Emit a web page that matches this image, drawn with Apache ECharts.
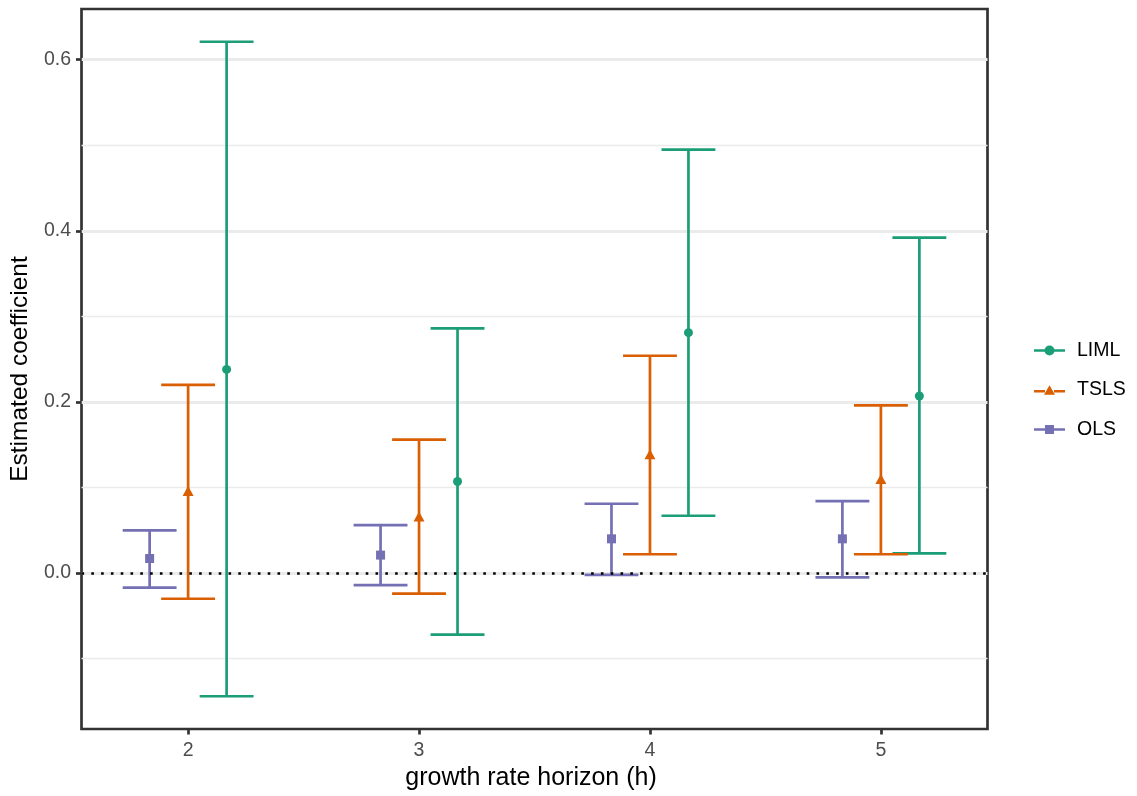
<!DOCTYPE html>
<html>
<head>
<meta charset="utf-8">
<script src="https://cdn.jsdelivr.net/npm/echarts@6/dist/echarts.min.js"></script>
<style>
html,body{margin:0;padding:0;background:#fff;}
#chart{width:1137px;height:796px;}
</style>
</head>
<body>
<div id="chart"></div>
<script>
// ---- data ----
const horizons = [2, 3, 4, 5];
const methods = ['LIML', 'TSLS', 'OLS'];

const limlEst = [0.238, 0.107, 0.281, 0.207];
const limlLo  = [-0.144, -0.072, 0.067, 0.023];
const limlHi  = [0.621, 0.286, 0.495, 0.392];

const tslsEst = [0.096, 0.066, 0.139, 0.110];
const tslsLo  = [-0.030, -0.024, 0.022, 0.022];
const tslsHi  = [0.220, 0.156, 0.254, 0.196];

const olsEst = [0.017, 0.021, 0.040, 0.040];
const olsLo  = [-0.017, -0.014, -0.002, -0.005];
const olsHi  = [0.050, 0.056, 0.081, 0.084];

const xTicks = [2, 3, 4, 5];
const yTicks = [0, 0.2, 0.4, 0.6];
const yMinor = [-0.1, 0.1, 0.3, 0.5];

// ---- layout / style ----
const colors = {LIML: '#1B9E77', TSLS: '#D95F02', OLS: '#7570B3'};
const dodge = {OLS: -1/6, TSLS: 0, LIML: 1/6};
const capHalf = 0.7 / 6;
const FONT = 'Liberation Sans';

const est = {LIML: limlEst, TSLS: tslsEst, OLS: olsEst};
const lo  = {LIML: limlLo,  TSLS: tslsLo,  OLS: olsLo};
const hi  = {LIML: limlHi,  TSLS: tslsHi,  OLS: olsHi};

// continuous-scale 5% expansion
const xDataMin = Math.min(...horizons) + dodge.OLS - capHalf;
const xDataMax = Math.max(...horizons) + dodge.LIML + capHalf;
const allY = [].concat(limlLo, limlHi, tslsLo, tslsHi, olsLo, olsHi);
const yDataMin = Math.min(...allY), yDataMax = Math.max(...allY);
const xPad = (xDataMax - xDataMin) * 0.05, yPad = (yDataMax - yDataMin) * 0.05;

function errRender(color) {
  return function (params, api) {
    const x = api.value(0), l = api.value(1), h = api.value(2);
    const pl = api.coord([x, l]), ph = api.coord([x, h]);
    const half = api.size([capHalf, 0])[0];
    const style = {stroke: color, lineWidth: 2.7, fill: null};
    return {type: 'group', children: [
      {type: 'line', shape: {x1: pl[0], y1: pl[1], x2: ph[0], y2: ph[1]}, style: style},
      {type: 'line', shape: {x1: ph[0] - half, y1: ph[1], x2: ph[0] + half, y2: ph[1]}, style: style},
      {type: 'line', shape: {x1: pl[0] - half, y1: pl[1], x2: pl[0] + half, y2: pl[1]}, style: style}
    ]};
  };
}

const symbols = {LIML: 'circle', TSLS: 'triangle', OLS: 'rect'};
const symbolSizes = {LIML: 9, TSLS: [11, 10], OLS: 9};

function refLines(values, lineStyle, z) {
  return {
    type: 'line', data: [], silent: true, z: z,
    markLine: {
      z: z, silent: true, symbol: 'none', animation: false, label: {show: false},
      lineStyle: lineStyle, emphasis: {disabled: true},
      data: values.map(v => ({yAxis: v}))
    }
  };
}

const series = [];
series.push(refLines(yMinor, {color: '#EBEBEB', width: 1.4, type: 'solid'}, 0));
series.push(refLines(yTicks, {color: '#EBEBEB', width: 2.8, type: 'solid'}, 0));
series.push(refLines([0], {color: '#000000', width: 2.6, type: [2.6, 7.2]}, 3));

methods.forEach(m => {
  series.push({
    name: m, type: 'custom', z: 2,
    renderItem: errRender(colors[m]),
    itemStyle: {color: colors[m]},
    encode: {x: 0, y: [1, 2]},
    data: horizons.map((h, i) => [h + dodge[m], lo[m][i], hi[m][i]])
  });
  series.push({
    name: m, type: 'scatter', z: 4,
    symbol: symbols[m], symbolSize: symbolSizes[m],
    itemStyle: {color: colors[m], opacity: 1},
    data: horizons.map((h, i) => [h + dodge[m], est[m][i]])
  });
});

const icons = {
  LIML: 'path://M0,3.65 L11,3.65 L11,6.35 L0,6.35 Z M20,3.65 L31,3.65 L31,6.35 L20,6.35 Z M10.5,5 A5,5 0 1,1 20.5,5 A5,5 0 1,1 10.5,5 Z',
  TSLS: 'path://M0,4.65 L11,4.65 L11,7.35 L0,7.35 Z M20,4.65 L31,4.65 L31,7.35 L20,7.35 Z M15.5,0 L21,9.5 L10,9.5 Z',
  OLS:  'path://M0,3.65 L11.2,3.65 L11.2,6.35 L0,6.35 Z M19.8,3.65 L31,3.65 L31,6.35 L19.8,6.35 Z M11,0.5 L20,0.5 L20,9.5 L11,9.5 Z'
};

const option = {
  animation: false,
  backgroundColor: '#ffffff',
  grid: {
    left: 81.5, right: 149.5, top: 9, bottom: 65,
    show: true, borderColor: '#333333', borderWidth: 2.7, backgroundColor: 'transparent'
  },
  legend: {
    orient: 'vertical', left: 1029, top: 335.5,
    itemWidth: 31, itemHeight: 10, itemGap: 19.5,
    selectedMode: false,
    textStyle: {fontFamily: FONT, fontSize: 19.5, color: '#000000', lineHeight: 20, padding: [0, 0, 0, 7]},
    data: methods.map(m => ({name: m, icon: icons[m], itemStyle: {color: colors[m], borderWidth: 0}}))
  },
  xAxis: {
    type: 'value',
    min: xDataMin - xPad, max: xDataMax + xPad,
    name: 'growth rate horizon (h)', nameLocation: 'middle', nameGap: 37,
    nameTextStyle: {fontFamily: FONT, fontSize: 25, color: '#000000', padding: [0, 7, 0, 0]},
    axisLine: {show: false, onZero: false},
    axisTick: {show: true, length: 5.5, customValues: xTicks, lineStyle: {color: '#333333', width: 2.7}},
    axisLabel: {customValues: xTicks, margin: 12, fontFamily: FONT, fontSize: 19.5, color: '#4D4D4D',
                formatter: v => String(v)},
    splitLine: {show: false}
  },
  yAxis: {
    type: 'value',
    min: yDataMin - yPad, max: yDataMax + yPad,
    name: 'Estimated coefficient', nameLocation: 'middle', nameGap: 37,
    nameTextStyle: {fontFamily: FONT, fontSize: 24.5, color: '#000000'},
    axisLine: {show: false, onZero: false},
    axisTick: {show: true, length: 5.5, customValues: yTicks, lineStyle: {color: '#333333', width: 2.7}},
    axisLabel: {customValues: yTicks, margin: 10.5, fontFamily: FONT, fontSize: 19.5, color: '#4D4D4D',
                formatter: v => v.toFixed(1)},
    splitLine: {show: false}
  },
  series: series
};

const chart = echarts.init(document.getElementById('chart'), null, {renderer: 'canvas'});
chart.setOption(option);
</script>
</body>
</html>
